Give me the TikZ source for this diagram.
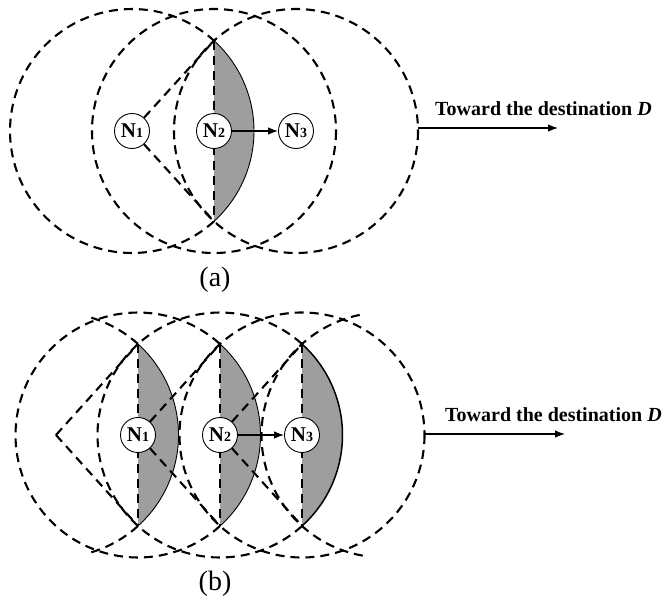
\documentclass[tikz,border=0pt]{standalone}
\usepackage{fontspec}
\setmainfont{Liberation Serif}
\usetikzlibrary{arrows.meta}
\begin{document}
\begin{tikzpicture}[x=1pt,y=-1pt,
  dsh/.style={line width=2.1pt, dash pattern=on 9pt off 6pt},
  shadefill/.style={fill=black!38},
  rim/.style={line width=0.9pt},
  nd/.style={circle, draw, line width=0.9pt, fill=white, minimum size=35pt, inner sep=0pt, font=\fontsize{21}{21}\selectfont\bfseries},
  arr/.style={line width=1.2pt, -{Latex[length=10pt,width=7.5pt]}},
  dest/.style={font=\fontsize{20}{22}\selectfont\bfseries, anchor=base west, inner sep=0pt},
  capt/.style={font=\fontsize{28}{30}\selectfont, inner sep=0pt}
]
\useasboundingbox (0,0) rectangle (664,605);

% ---------------- (a) ----------------
\coordinate (c1) at (132,131);
\coordinate (c2) at (214,131);
\coordinate (c3) at (296,131);
\coordinate (at) at (214,40.7);
\coordinate (ab) at (214,221.3);

\fill[shadefill] (ab) arc[start angle=47.77,end angle=-47.77,radius=122] -- cycle;
\draw[dsh] ([shift={(47.77:122)}]c1) arc[start angle=47.77,end angle=312.23,radius=122];
\draw[rim] (ab) arc[start angle=47.77,end angle=-47.77,radius=122];
\draw[dsh] (c2) circle[radius=122];
\draw[dsh] (c3) circle[radius=122];
\draw[dsh] (at) -- (ab);

\node[nd] (a1) at (c1) {N{\fontsize{14}{14}\selectfont 1}};
\node[nd] (a2) at (c2) {N{\fontsize{14}{14}\selectfont 2}};
\node[nd] (a3) at (c3) {N{\fontsize{14}{14}\selectfont 3}};
\draw[dsh] (a1) -- (at);
\draw[dsh] (a1) -- (ab);
\draw[arr] (a2) -- (a3);

\coordinate (as) at (418,128);
\coordinate (ae) at (558,128);
\draw[arr] (as) -- (ae);
\node[dest] (adest) at (435,115) {Toward the destination \textit{D}};
\node[capt] (acap) at (215,280) {(a)};

% ---------------- (b) ----------------
\coordinate (b0c) at (56,435);
\coordinate (b1c) at (138,435);
\coordinate (b2c) at (220,435);
\coordinate (b3c) at (302,435);
\coordinate (b4c) at (384,435);
\coordinate (t1) at (138,344);
\coordinate (u1) at (138,526);
\coordinate (t2) at (220,344);
\coordinate (u2) at (220,526);
\coordinate (t3) at (302,344);
\coordinate (u3) at (302,526);

\fill[shadefill] (u1) arc[start angle=47.98,end angle=-47.98,radius=122.5] -- cycle;
\fill[shadefill] (u2) arc[start angle=47.98,end angle=-47.98,radius=122.5] -- cycle;
\fill[shadefill] (u3) arc[start angle=47.98,end angle=-47.98,radius=122.5] -- cycle;

\draw[dsh] (u1) arc[start angle=47.98,end angle=75,radius=122.5];
\draw[dsh] (t1) arc[start angle=-47.98,end angle=-75,radius=122.5];
\draw[dsh] ([shift={(47.98:122.5)}]b1c) arc[start angle=47.98,end angle=312.02,radius=122.5];
\draw[dsh] ([shift={(47.98:122.5)}]b2c) arc[start angle=47.98,end angle=312.02,radius=122.5];
\draw[dsh] (b3c) circle[radius=122.5];
\draw[dsh] ([shift={(100:122.5)}]b4c) arc[start angle=100,end angle=260,radius=122.5];

\draw[rim] (u1) arc[start angle=47.98,end angle=-47.98,radius=122.5];
\draw[rim] (u2) arc[start angle=47.98,end angle=-47.98,radius=122.5];
\draw[rim, line width=1.5pt] (u3) arc[start angle=47.98,end angle=-47.98,radius=122.5];

\draw[dsh] (t1) -- (u1);
\draw[dsh] (t2) -- (u2);
\draw[dsh] (t3) -- (u3);

\node[nd] (b1) at (b1c) {N{\fontsize{14}{14}\selectfont 1}};
\node[nd] (b2) at (b2c) {N{\fontsize{14}{14}\selectfont 2}};
\node[nd] (b3) at (b3c) {N{\fontsize{14}{14}\selectfont 3}};

\draw[dsh] (b0c) -- (t1);
\draw[dsh] (b0c) -- (u1);
\draw[dsh] (b1) -- (t2);
\draw[dsh] (b1) -- (u2);
\draw[dsh] (b2) -- (t3);
\draw[dsh] (b2) -- (u3);
\draw[arr] (b2) -- (b3);

\coordinate (bs) at (425,434);
\coordinate (be) at (565,434);
\draw[arr] (bs) -- (be);
\node[dest] (bdest) at (445,421) {Toward the destination \textit{D}};
\node[capt] (bcap) at (215,584) {(b)};
\end{tikzpicture}
\end{document}
